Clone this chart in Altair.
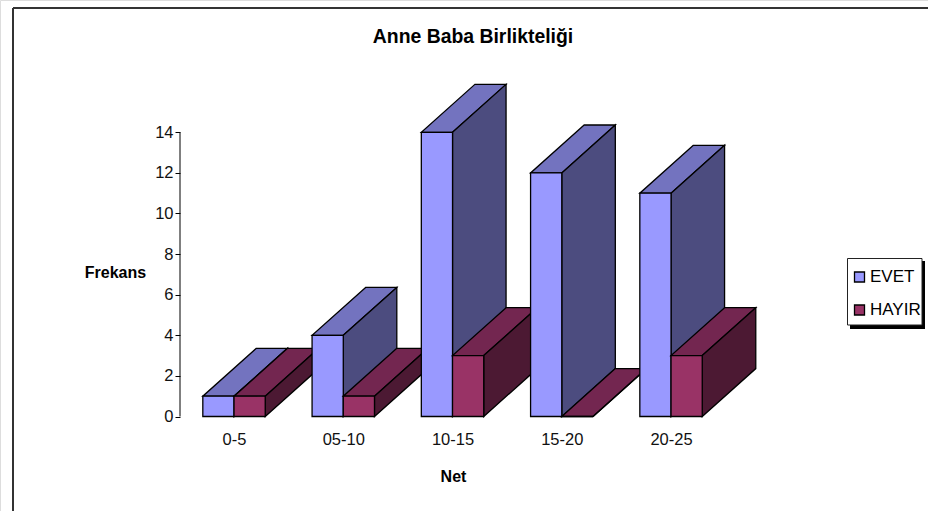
import json

import altair as alt
import pandas as pd

# Frequency of students per score band, split by whether the parents live together
categories = ["0-5", "05-10", "10-15", "15-20", "20-25"]
evet = [1, 4, 14, 12, 11]
hayir = [1, 1, 3, 0, 3]
series_names = ["EVET", "HAYIR"]

# Face colours of the extruded columns: front, top, side
front_colors = ["#9999FF", "#993366"]
top_colors = ["#7373BF", "#732650"]
side_colors = ["#4C4C7F", "#4C1933"]

# Extrusion and column width, in axis units
BAR_W = 0.2856
DEPTH_X = 0.49
DEPTH_Y = 2.36
EDGE = 1.3
FONT = "Liberation Sans"

category_lookup = json.dumps(categories)

x_scale = alt.Scale(domain=[-2.142, 6.352], nice=False, zero=False)
y_scale = alt.Scale(domain=[-4.655, 20.517], nice=False, zero=False)

x_axis = alt.Axis(
    values=list(range(len(categories))),
    labelExpr=f"{category_lookup}[datum.value]",
    title="Net",
    domain=False,
    ticks=False,
    grid=False,
    offset=-94.5,
    labelPadding=15,
    labelFont=FONT,
    labelFontSize=16.5,
    labelColor="#111111",
    labelAngle=0,
    titleFont=FONT,
    titleFontSize=16,
    titleFontWeight="bold",
    titleColor="black",
    titleX=453,
    titleY=60,
    titleAlign="center",
    titleBaseline="middle",
)
y_axis = alt.Axis(
    values=list(range(0, 15, 2)),
    title="Frekans",
    domain=False,
    grid=False,
    offset=-180,
    tickSize=5,
    tickColor="black",
    tickWidth=1,
    labelPadding=2,
    labelFont=FONT,
    labelFontSize=16.5,
    labelColor="#111111",
    titleFont=FONT,
    titleFontSize=16,
    titleFontWeight="bold",
    titleColor="black",
    titleAngle=0,
    titleX=-65,
    titleY=272,
    titleAlign="center",
    titleBaseline="middle",
)

X = alt.X("x:Q", scale=x_scale, axis=x_axis)
Y = alt.Y("y:Q", scale=y_scale, axis=y_axis)

series_color = alt.Color(
    "series:N",
    scale=alt.Scale(domain=series_names, range=front_colors),
    legend=alt.Legend(
        orient="none",
        legendX=851,
        legendY=268.5,
        title=None,
        padding=0,
        symbolType="square",
        symbolSize=100,
        symbolStrokeColor="black",
        symbolStrokeWidth=1.3,
        symbolOpacity=1,
        labelFont=FONT,
        labelFontSize=17,
        labelColor="black",
        labelOffset=2,
        rowPadding=15,
    ),
)


def top_face(left, value, color):
    data = pd.DataFrame(
        {
            "y": [value, value + DEPTH_Y],
            "x": [left, left + DEPTH_X],
            "x2": [left + BAR_W, left + BAR_W + DEPTH_X],
        }
    )
    return (
        alt.Chart(data)
        .mark_area(orient="horizontal", fill=color, stroke="black", strokeWidth=EDGE)
        .encode(x=X, x2="x2:Q", y=Y)
    )


def side_face(left, value, color):
    right = left + BAR_W
    data = pd.DataFrame(
        {
            "x": [right, right + DEPTH_X],
            "y": [value, value + DEPTH_Y],
            "y2": [0, DEPTH_Y],
        }
    )
    return (
        alt.Chart(data)
        .mark_area(orient="vertical", fill=color, stroke="black", strokeWidth=EDGE)
        .encode(x=X, y=Y, y2="y2:Q")
    )


def front_face(left, value, series):
    data = pd.DataFrame(
        {"x": [left], "x2": [left + BAR_W], "y": [value], "y2": [0], "series": [series]}
    )
    return (
        alt.Chart(data)
        .mark_rect(stroke="black", strokeWidth=EDGE, opacity=1)
        .encode(x=X, x2="x2:Q", y=Y, y2="y2:Q", color=series_color)
    )


# Chart frame (top and left edges only) and the legend's panel sit behind the data
one_row = pd.DataFrame({"a": [0]})
frame_top = alt.Chart(one_row).mark_rule(color="#333333", strokeWidth=2).encode(
    x=alt.value(13), x2=alt.value(928), y=alt.value(8)
)
frame_left = alt.Chart(one_row).mark_rule(color="#333333", strokeWidth=2).encode(
    x=alt.value(13), y=alt.value(8), y2=alt.value(511)
)
legend_shadow = alt.Chart(one_row).mark_rect(color="black").encode(
    x=alt.value(850), x2=alt.value(925), y=alt.value(261), y2=alt.value(329)
)
legend_panel = alt.Chart(one_row).mark_rect(fill="white", stroke="#222222", strokeWidth=1).encode(
    x=alt.value(847.5), x2=alt.value(922), y=alt.value(258.5), y2=alt.value(325)
)
heading = alt.Chart(pd.DataFrame({"t": ["Anne Baba Birlikteliği"]})).mark_text(
    font=FONT, fontSize=19.4, fontWeight="bold", color="black"
).encode(x=alt.value(473), y=alt.value(37), text="t:N")

# The value axis line stops at the last tick
axis_line = alt.Chart(pd.DataFrame({"y": [0], "y2": [14]})).mark_rule(
    color="black", strokeWidth=1
).encode(x=alt.value(180), y=Y, y2="y2:Q")

layers = [frame_top, frame_left, legend_shadow, legend_panel, heading, axis_line]

# Painter's order: within a band the first series goes down before the second,
# and each band overlaps the depth of the one before it
for i, pair in enumerate(zip(evet, hayir)):
    for s, value in enumerate(pair):
        left = i - BAR_W + s * BAR_W
        layers.append(top_face(left, value, top_colors[s]))
        layers.append(side_face(left, value, side_colors[s]))
        layers.append(front_face(left, value, series_names[s]))

chart = (
    alt.layer(*layers)
    .properties(width=928, height=511, padding=0, autosize=alt.AutoSizeParams(type="none"))
    .configure_view(stroke=None)
    .configure(background="white")
)

chart.save("out.html", embed_options={"renderer": "svg", "actions": False})
